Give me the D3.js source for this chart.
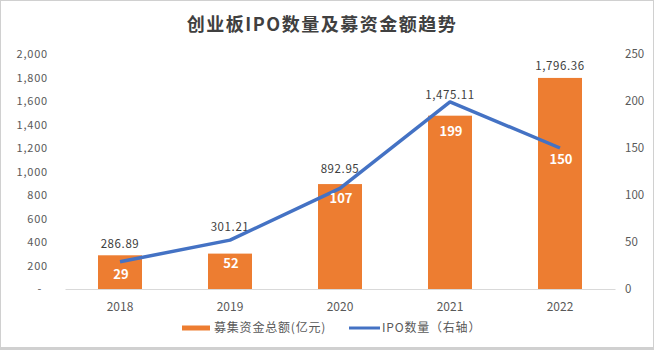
<!DOCTYPE html>
<html><head><meta charset="utf-8">
<script src="https://cdn.jsdelivr.net/npm/d3@7/dist/d3.min.js"></script>
<style>
body{margin:0;background:#fff;}
text{font-family:"Noto Sans CJK SC","DejaVu Sans",sans-serif;}
</style></head>
<body><svg id="c" width="654" height="350"></svg>
<script>
const years = ["2018","2019","2020","2021","2022"];
const funds = [286.89, 301.21, 892.95, 1475.11, 1796.36];
const ipoCount = [29, 52, 107, 199, 150];
const leftTicks = [0,200,400,600,800,1000,1200,1400,1600,1800,2000];
const rightTicks = [0,50,100,150,200,250];
const titleText = "创业板IPO数量及募资金额趋势";
const legendLabels = ["募集资金总额(亿元)", "IPO数量（右轴）"];

const svg = d3.select("#c");
const W = 654, H = 350;
const orange = "#ED7D31", blue = "#4472C4", grey = "#595959";

svg.append("rect").attr("x",0.5).attr("y",0.5).attr("width",W-1).attr("height",H-1)
  .attr("fill","#fff").attr("stroke","#d0d0d0").attr("stroke-width",1);
svg.append("line").attr("x1",0).attr("x2",W).attr("y1",H-2).attr("y2",H-2)
  .attr("stroke","#d0d0d0").attr("stroke-width",2);

svg.append("text").attr("x",322).attr("y",31).attr("text-anchor","middle")
  .attr("font-size",18).attr("font-weight","bold").attr("fill","#404040")
  .attr("letter-spacing",1.5).text(titleText);

const x = d3.scaleBand().domain(years).range([65,615]).paddingInner(0.6).paddingOuter(0.3);
const yL = d3.scaleLinear().domain([0,2000]).range([289,54]);
const yR = d3.scaleLinear().domain([0,250]).range([289,54]);

// left axis
const la = svg.append("g").attr("transform","translate(48,0)")
  .call(d3.axisLeft(yL).tickValues(leftTicks).tickSize(0).tickPadding(0)
    .tickFormat(d => d===0 ? "-" : d3.format(",")(d)));
la.select(".domain").remove();
la.selectAll("text").attr("font-size",11).attr("fill",grey).attr("letter-spacing",0.8)
  .attr("font-family","\"Noto Sans CJK SC\",sans-serif")
  .attr("dx", d => d===0 ? -6 : 0);

// right axis
const ra = svg.append("g").attr("transform","translate(625,0)")
  .call(d3.axisRight(yR).tickValues(rightTicks).tickSize(0).tickPadding(0));
ra.select(".domain").remove();
ra.selectAll("text").attr("font-size",11.5).attr("fill",grey).attr("font-family","Roboto,sans-serif");

// bottom axis
const ba = svg.append("g").attr("transform","translate(0,289)")
  .call(d3.axisBottom(x).tickSize(0).tickPadding(13));
ba.select(".domain").attr("stroke","#d9d9d9");
ba.selectAll("text").attr("font-size",12).attr("fill",grey).attr("font-family","Roboto,sans-serif");

// bars
svg.append("g").selectAll("rect").data(years).join("rect")
  .attr("x", d => x(d)).attr("width", x.bandwidth())
  .attr("y", (d,i) => yL(funds[i])).attr("height", (d,i) => 289 - yL(funds[i]))
  .attr("fill", orange);

// bar value labels (nudged above to clear the line as in the original)
const barLabelLift = [12, 28, 16, 22, 13];
svg.append("g").selectAll("text").data(years).join("text")
  .attr("x", d => x(d) + x.bandwidth()/2)
  .attr("y", (d,i) => yL(funds[i]) - barLabelLift[i] + 5)
  .attr("text-anchor","middle").attr("font-size",11.5).attr("fill","#404040")
  .attr("letter-spacing",0.6)
  .text((d,i) => d3.format(",.2f")(funds[i]));

// line
const line = d3.line().x((d,i) => x(years[i]) + x.bandwidth()/2).y(d => yR(d));
svg.append("path").datum(ipoCount).attr("d", line)
  .attr("fill","none").attr("stroke",blue).attr("stroke-width",3.5).attr("stroke-linejoin","round");

const lineLabelDrop = [12, 23, 10, 29, 11];
svg.append("g").selectAll("text").data(years).join("text")
  .attr("x", d => x(d) + x.bandwidth()/2 + 1)
  .attr("y", (d,i) => yR(ipoCount[i]) + lineLabelDrop[i] + 5)
  .attr("text-anchor","middle").attr("font-size",13).attr("font-weight","bold").attr("fill","#fff")
  .attr("font-family","Roboto,sans-serif")
  .text((d,i) => ipoCount[i]);

// legend
const lg = svg.append("g");
lg.append("line").attr("x1",182).attr("x2",210).attr("y1",328).attr("y2",328)
  .attr("stroke",orange).attr("stroke-width",5);
lg.append("text").attr("x",214).attr("y",332).attr("font-size",12).attr("fill",grey)
  .attr("letter-spacing",0.8).text(legendLabels[0]);
lg.append("line").attr("x1",349).attr("x2",380).attr("y1",328).attr("y2",328)
  .attr("stroke",blue).attr("stroke-width",3);
lg.append("text").attr("x",382).attr("y",332).attr("font-size",12).attr("fill",grey)
  .attr("letter-spacing",0.8).text(legendLabels[1]);
</script></body></html>
